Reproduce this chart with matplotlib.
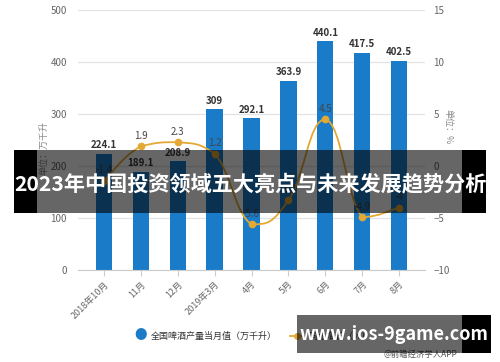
import matplotlib
matplotlib.use("Agg")
import matplotlib.pyplot as plt
from matplotlib.path import Path
from matplotlib.patches import PathPatch, Rectangle
import numpy as np

plt.rcParams['font.family'] = ['Noto Sans CJK SC', 'DejaVu Sans']

categories = ["2018年10月", "11月", "12月", "2019年3月", "4月", "5月", "6月", "7月", "8月"]
production = [224.1, 189.1, 208.9, 309, 292.1, 363.9, 440.1, 417.5, 402.5]
growth = [-1.4, 1.9, 2.3, 1.2, -5.6, -3.3, 4.5, -4.9, -4.0]
growth_labels = ["-1.4", "1.9", "2.3", "1.2", "-5.6", "-3.3", "4.5", "-4.9", "-4"]
left_ticks = [0, 100, 200, 300, 400, 500]
right_ticks = [-10, -5, 0, 5, 10, 15]
legend_bar = "全国啤酒产量当月值（万千升）"
legend_line = "同比增长（%）"
title = "2023年中国投资领域五大亮点与未来发展趋势分析"
banner = "www.ios-9game.com"
source = "@前瞻经济学人APP"

bar_color = "#1a7bc8"
line_color = "#e3a934"
tick_color = "#666666"
grid_color = "#e3e3e3"

fig = plt.figure(figsize=(5.0, 3.62), dpi=100)
ax = fig.add_axes([0.156, 0.254, 0.694, 0.718])
x = np.arange(len(categories))
ax.bar(x, production, width=0.44, color=bar_color, zorder=2)
ax.set_ylim(0, 500)
ax.set_xlim(-0.7, len(categories) - 0.3)
ax.set_yticks(left_ticks)
ax.grid(axis='y', color=grid_color, linewidth=0.9, zorder=0)
ax.set_axisbelow(True)
for s in ['top', 'right', 'left']:
    ax.spines[s].set_visible(False)
ax.spines['bottom'].set_color("#cccccc")
ax.tick_params(axis='y', length=0, labelsize=7, colors=tick_color, pad=8)
ax.set_xticks(x)
ax.set_xticklabels(categories, rotation=45, ha='right', rotation_mode='anchor', fontsize=6.5, color=tick_color)
ax.tick_params(axis='x', length=4, color="#cccccc", pad=3)
for xi, v in zip(x, production):
    ax.text(xi, v + 7, f"{v:g}", ha='center', va='bottom', fontsize=7, fontweight='bold', color="#333333", zorder=5)
ax.set_ylabel("单位：万千升", fontsize=6.5, color="#888888", labelpad=2)
ax.yaxis.set_label_coords(-0.085, 0.47)

ax2 = ax.twinx()
ax2.set_ylim(-10, 15)
ax2.set_yticks(right_ticks)
for s in ['top', 'right', 'left', 'bottom']:
    ax2.spines[s].set_visible(False)
ax2.tick_params(axis='y', length=0, labelsize=7, colors=tick_color, pad=6)
ax2.set_ylabel("单位：%", fontsize=6.5, color="#888888", rotation=270, labelpad=2)
ax2.yaxis.set_label_coords(1.08, 0.55)

# smooth curve through data points (cubic bezier with clamped control points)
pts = np.column_stack([x, growth]).astype(float)
verts = [tuple(pts[0])]
codes = [Path.MOVETO]
t = 0.45
for i in range(len(pts) - 1):
    p0 = pts[i - 1] if i > 0 else pts[i]
    p1 = pts[i]
    p2 = pts[i + 1]
    p3 = pts[i + 2] if i + 2 < len(pts) else pts[i + 1]
    c1 = p1 + (p2 - p0) * t / 2
    c2 = p2 - (p3 - p1) * t / 2
    lo, hi = min(p1[1], p2[1]), max(p1[1], p2[1])
    c1[1] = np.clip(c1[1], lo, hi)
    c2[1] = np.clip(c2[1], lo, hi)
    verts += [tuple(c1), tuple(c2), tuple(p2)]
    codes += [Path.CURVE4] * 3
ax2.add_patch(PathPatch(Path(verts, codes), facecolor='none', edgecolor=line_color, linewidth=1.3, zorder=3))
ax2.plot(x, growth, 'o', color=line_color, markersize=4.5, zorder=4)
for xi, v, lab in zip(x, growth, growth_labels):
    ax2.text(xi, v + 0.5, lab, ha='center', va='bottom', fontsize=7, color="#444444", zorder=5)

# legend
fig.text(141 / 500, 1 - 336 / 362, "●", color=bar_color, fontsize=9, ha='center', va='center')
fig.text(151 / 500, 1 - 336 / 362, legend_bar, color="#333333", fontsize=6.5, ha='left', va='center')
fig.add_artist(plt.Line2D([290 / 500, 304 / 500], [1 - 336 / 362] * 2, color=line_color, linewidth=1.3))
fig.add_artist(plt.Line2D([297 / 500], [1 - 336 / 362], marker='o', color=line_color, markersize=4))
fig.text(308 / 500, 1 - 336 / 362, legend_line, color="#333333", fontsize=6.5, ha='left', va='center')
fig.text(457 / 500, 1 - 354 / 362, source, color="#555555", fontsize=6, ha='right', va='center')

# overlay title band
W, H = 500, 362
def rect(x0, y0, x1, y1, color, alpha):
    fig.add_artist(Rectangle((x0 / W, 1 - y1 / H), (x1 - x0) / W, (y1 - y0) / H,
                             transform=fig.transFigure, facecolor=color, alpha=alpha,
                             edgecolor='none', zorder=10))
rect(14, 150, 37, 213, 'black', 1.0)
rect(37, 150, 462, 213, 'black', 0.6)
rect(462, 150, 486, 213, 'black', 1.0)
fig.text(250 / W, 1 - 184 / H, title, color='white', fontsize=15.2, fontweight='bold',
         ha='center', va='center', zorder=11)

rect(297, 315, 462, 353, 'black', 0.6)
rect(462, 315, 491, 353, 'black', 1.0)
fig.text(394 / W, 1 - 334 / H, banner, color='white', fontsize=13, fontweight='bold',
         ha='center', va='center', zorder=11)

fig.savefig("out.png", dpi=100)
